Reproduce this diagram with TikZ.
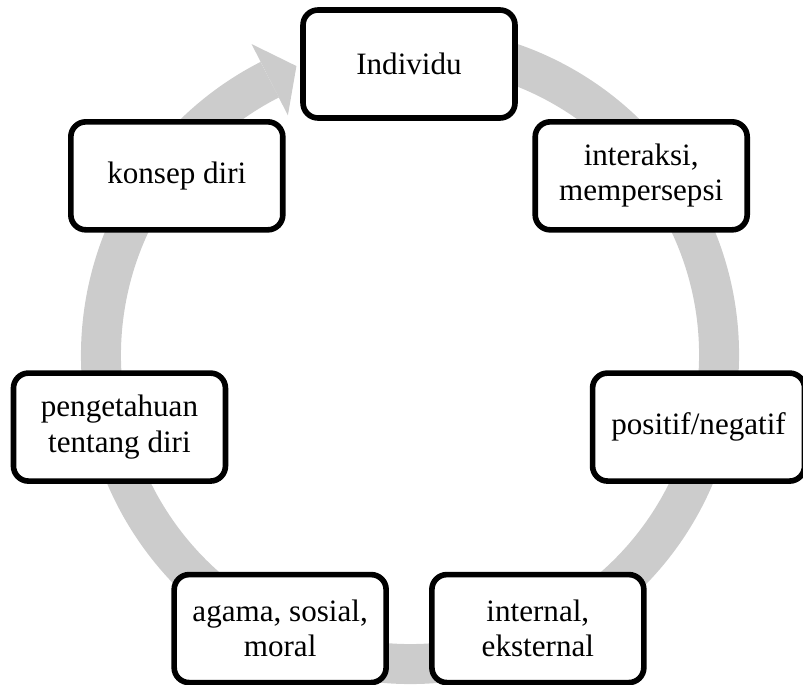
\documentclass[tikz,border=0pt]{standalone}
\usepackage{fontspec}
\setmainfont{Liberation Serif}
\definecolor{ringgray}{RGB}{204,204,204}
\tikzset{
  stepbox/.style={draw,fill=white,line width=3.2pt,rounded corners=0.3cm,
    minimum width=4.24cm,minimum height=2.16cm,align=center,
    font=\fontsize{17.7}{20}\selectfont},
  ring/.style={draw=ringgray,line width=0.8cm}
}
\begin{document}
\begin{tikzpicture}[x=0.02cm,y=0.02cm]
\useasboundingbox (0,0) rectangle (803,684);
% grey cycle arrow
\begin{scope}[shift={(410,329)}]
  \draw[ring] (80:309) arc[start angle=80,end angle=-243,radius=309];
  \fill[ringgray] (117:269) -- (117:349) -- ([shift={(27:30)}]117:309) -- cycle;
\end{scope}
% steps
\begin{scope}[shift={(409,323)}]
\foreach \txt [count=\i] in {Individu,{interaksi,\\mempersepsi},positif/negatif,
  {internal,\\eksternal},{agama, sosial,\\moral},{pengetahuan\\tentang diri},konsep diri}
  \node[stepbox] (s\i) at ({90-(\i-1)*360/7}:297) {\txt};
\end{scope}
\end{tikzpicture}
\end{document}
